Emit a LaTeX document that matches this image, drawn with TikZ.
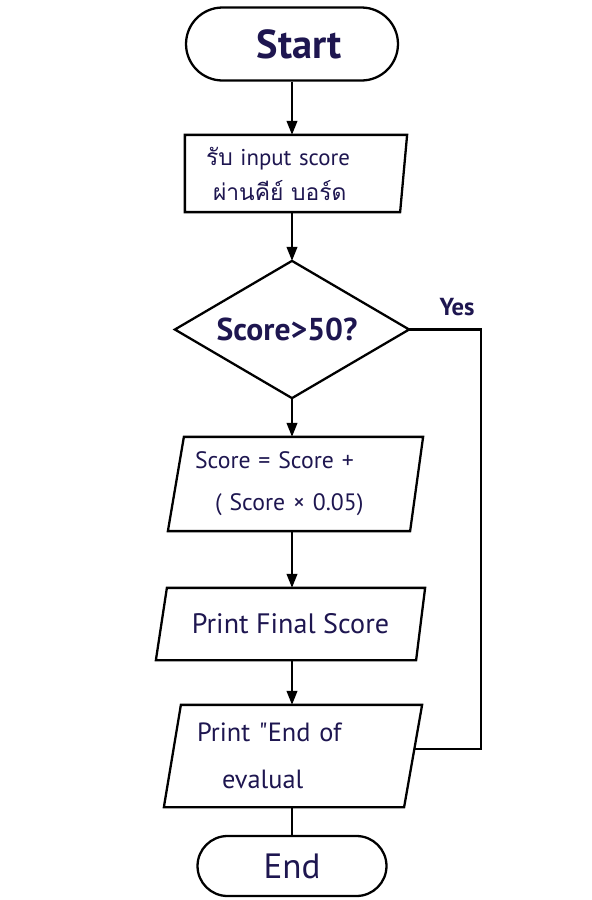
\documentclass[tikz,border=0pt]{standalone}
\usepackage{fontspec}
\setmainfont{PT Sans}
\newfontfamily\rawfont[Ligatures=ResetAll]{PT Sans}
\newfontfamily\thaifont[Script=Thai]{Loma}
\usetikzlibrary{arrows.meta,calc}
\definecolor{penink}{HTML}{1E1650}

\begin{document}
\begin{tikzpicture}[x=0.02cm, y=-0.02cm, line width=1.3pt,
  every node/.style={text=penink},
  terminal/.style={draw=black, rounded corners=#1, inner sep=0pt},
  box/.style={inner sep=0pt, align=center},
  flow/.style={-{Triangle[width=6pt,length=8pt]}}]
  \useasboundingbox (0,0) rectangle (592,900);

  % terminals
  \node[terminal=0.73cm, minimum width=4.24cm, minimum height=1.46cm,
        font=\bfseries\fontsize{23}{27}\selectfont] (start) at (292,44) {\hspace*{0.3cm}Start};
  \node[terminal=0.6cm, minimum width=3.78cm, minimum height=1.2cm,
        font=\fontsize{20}{24}\selectfont] (stop) at (292,866) {End};

  % input
  \node[box, minimum width=4.4cm, minimum height=1.5cm, inner xsep=0.4cm,
        text width=3.6cm, align=left, font=\fontsize{13}{20}\selectfont]
        (input) at (296,173.5)
        {{\thaifont รับ} input score\\\hspace*{0.14cm}{\thaifont ผ่านคีย์ บอร์ด}};
  \draw (input.north west) -- (input.north east)
        -- ($(input.south east)+(-7,0)$) -- (input.south west) -- cycle;

  % decision
  \node[box, minimum width=4.64cm, minimum height=2.7cm,
        font=\bfseries\fontsize{18}{22}\selectfont] (check) at (292,329.5) {Score>50?\hspace*{0.2cm}};
  \draw (check.north) -- (check.east) -- (check.south) -- (check.west) -- cycle;
  \node[font=\bfseries\fontsize{14}{17}\selectfont] (yes) at (457,307) {Yes};

  % update
  \node[box, minimum width=5.06cm, minimum height=1.84cm, inner xsep=0.52cm,
        text width=4.02cm, align=left, font=\fontsize{13.5}{24}\selectfont]
        (update) at (295.5,484)
        {Score = Score +\\\hspace*{0.4cm}( Score × 0.05)};
  \draw ($(update.north west)+(16,0)$) -- (update.north east)
        -- ($(update.south east)+(-13,0)$) -- (update.south west) -- cycle;

  % outputs
  \node[box, minimum width=5.34cm, minimum height=1.4cm,
        font=\fontsize{16}{19}\selectfont] (printscore) at (290.5,624) {Print Final Score};
  \draw ($(printscore.north west)+(11,0)$) -- (printscore.north east)
        -- ($(printscore.south east)+(-9,0)$) -- (printscore.south west) -- cycle;

  \node[box, minimum width=5.12cm, minimum height=2cm, inner xsep=0.64cm,
        text width=3.84cm, align=left, font=\fontsize{15}{27}\selectfont]
        (printend) at (293,756)
        {Print {\rawfont"}End of\\\hspace*{0.5cm}evalual};
  \draw ($(printend.north west)+(17,0)$) -- (printend.north east)
        -- ($(printend.south east)+(-18,0)$) -- (printend.south west) -- cycle;

  % connectors
  \draw[flow] (start.south) -- (start.south |- input.north);
  \draw[flow] (input.south -| check.north) -- (check.north);
  \draw[flow] (check.south) -- (check.south |- update.north);
  \draw[flow] (check.south |- update.south) -- (check.south |- printscore.north);
  \draw[flow] (check.south |- printscore.south) -- (check.south |- printend.north);
  \draw (check.south |- printend.south) -- (stop.north);

  \coordinate (join) at (413.5,749);
  \draw (check.east) -- ++(72,0) |- (join);
\end{tikzpicture}
\end{document}
